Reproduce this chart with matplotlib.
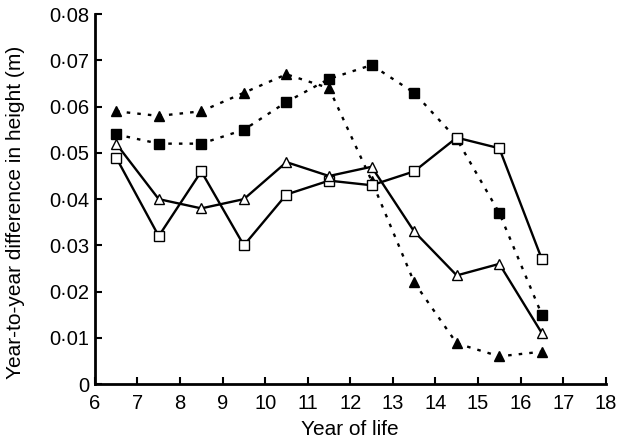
import matplotlib
matplotlib.use("Agg")
import matplotlib.pyplot as plt
from matplotlib.ticker import FuncFormatter

plt.rcParams['font.family'] = ['Liberation Sans', 'DejaVu Sans']

years = [6.5, 7.5, 8.5, 9.5, 10.5, 11.5, 12.5, 13.5, 14.5, 15.5, 16.5]
open_sq = [0.049, 0.032, 0.046, 0.030, 0.041, 0.044, 0.043, 0.046, 0.0533, 0.051, 0.027]
open_tri = [0.052, 0.040, 0.038, 0.040, 0.048, 0.045, 0.047, 0.033, 0.0235, 0.026, 0.011]
filled_sq = [0.054, 0.052, 0.052, 0.055, 0.061, 0.066, 0.069, 0.063, 0.053, 0.037, 0.015]
filled_tri = [0.059, 0.058, 0.059, 0.063, 0.067, 0.064, 0.044, 0.022, 0.0088, 0.006, 0.007]

fig = plt.figure(figsize=(6.2, 4.43), dpi=100)
ax = fig.add_axes([0.153, 0.133, 0.824, 0.835])

dot = (0, (1.5, 3))
ax.plot(years, filled_sq, color='black', lw=1.7, ls=dot, marker='s', ms=7, mfc='black', mec='black')
ax.plot(years, filled_tri, color='black', lw=1.7, ls=dot, marker='^', ms=7, mfc='black', mec='black')
ax.plot(years, open_sq, color='black', lw=1.7, ls='-', marker='s', ms=7, mfc='white', mec='black', mew=1)
ax.plot(years, open_tri, color='black', lw=1.7, ls='-', marker='^', ms=7, mfc='white', mec='black', mew=1)

ax.set_xlim(6, 18)
ax.set_ylim(0, 0.08)
ax.set_xticks(range(6, 19))
ax.set_yticks([i / 100 for i in range(9)])

def yfmt(v, pos):
    if abs(v) < 1e-9:
        return '0'
    return ('%.2f' % v).replace('.', '\u00b7')

ax.yaxis.set_major_formatter(FuncFormatter(yfmt))
ax.tick_params(direction='in', length=5, width=1.5, labelsize=14.5)
ax.tick_params(axis='x', pad=7)
ax.tick_params(axis='y', pad=4)
ax.spines['top'].set_visible(False)
ax.spines['right'].set_visible(False)
ax.spines['left'].set_linewidth(2)
ax.spines['bottom'].set_linewidth(2)

ax.set_xlabel('Year of life', fontsize=15, labelpad=5)
ax.set_ylabel('Year-to-year difference in height (m)', fontsize=15)
ax.yaxis.set_label_coords(-0.137, 0.465)

fig.savefig('out.png', dpi=100)
